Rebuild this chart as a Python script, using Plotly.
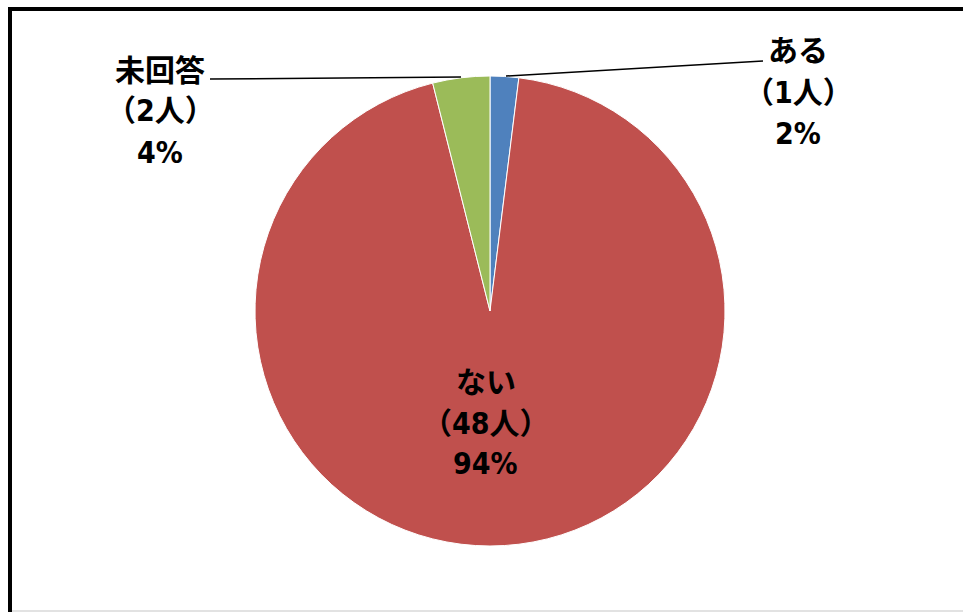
import plotly.graph_objects as go

labels = ["ある", "ない", "未回答"]
counts = [1, 48, 2]
percents = ["2%", "94%", "4%"]
colors = ["#4F81BD", "#C0504D", "#9BBB59"]

W, H = 963, 612
FONT = "DejaVu Sans Condensed, Noto Sans CJK JP, sans-serif"

def px(x):
    return x / W

def py(y):
    return 1 - y / H

fig = go.Figure(go.Pie(
    labels=labels,
    values=counts,
    sort=False,
    direction="clockwise",
    rotation=0,
    marker=dict(colors=colors, line=dict(color="#FFFFFF", width=1)),
    textinfo="none",
    hoverinfo="label+value+percent",
    domain=dict(x=[px(255), px(725)], y=[py(546), py(76)]),
    showlegend=False,
))

# label positions (pixel centres of the three text lines)
label_pos = {
    "ある": (798, [50, 92, 133]),
    "ない": (486, [382, 423, 463]),
    "未回答": (160, [70, 110, 152]),
}

annotations = []
for lab, cnt, pct in zip(labels, counts, percents):
    cx, ys = label_pos[lab]
    lines = [lab, f"（{cnt}人）", pct]
    for t, yy in zip(lines, ys):
        annotations.append(dict(
            x=px(cx), y=py(yy), xref="paper", yref="paper",
            text=t, showarrow=False,
            xanchor="center", yanchor="middle",
            font=dict(family=FONT, size=30, color="#000000", weight="bold"),
        ))

shapes = [
    # leader lines
    dict(type="line", xref="paper", yref="paper",
         x0=px(763), y0=py(61), x1=px(506), y1=py(76),
         line=dict(color="#000000", width=1.5)),
    dict(type="line", xref="paper", yref="paper",
         x0=px(210), y0=py(79), x1=px(461), y1=py(77),
         line=dict(color="#000000", width=1.5)),
    # chart frame
    dict(type="line", xref="paper", yref="paper",
         x0=px(8), y0=py(9), x1=px(970), y1=py(9),
         line=dict(color="#000000", width=4)),
    dict(type="line", xref="paper", yref="paper",
         x0=px(10), y0=py(7), x1=px(10), y1=py(620),
         line=dict(color="#000000", width=4)),
    dict(type="line", xref="paper", yref="paper",
         x0=px(12), y0=py(611), x1=px(970), y1=py(611),
         line=dict(color="#D9D9D9", width=1.5)),
]

fig.update_layout(
    width=W, height=H,
    margin=dict(l=0, r=0, t=0, b=0),
    paper_bgcolor="#FFFFFF",
    plot_bgcolor="#FFFFFF",
    annotations=annotations,
    shapes=shapes,
)

fig.write_html("out.html")
